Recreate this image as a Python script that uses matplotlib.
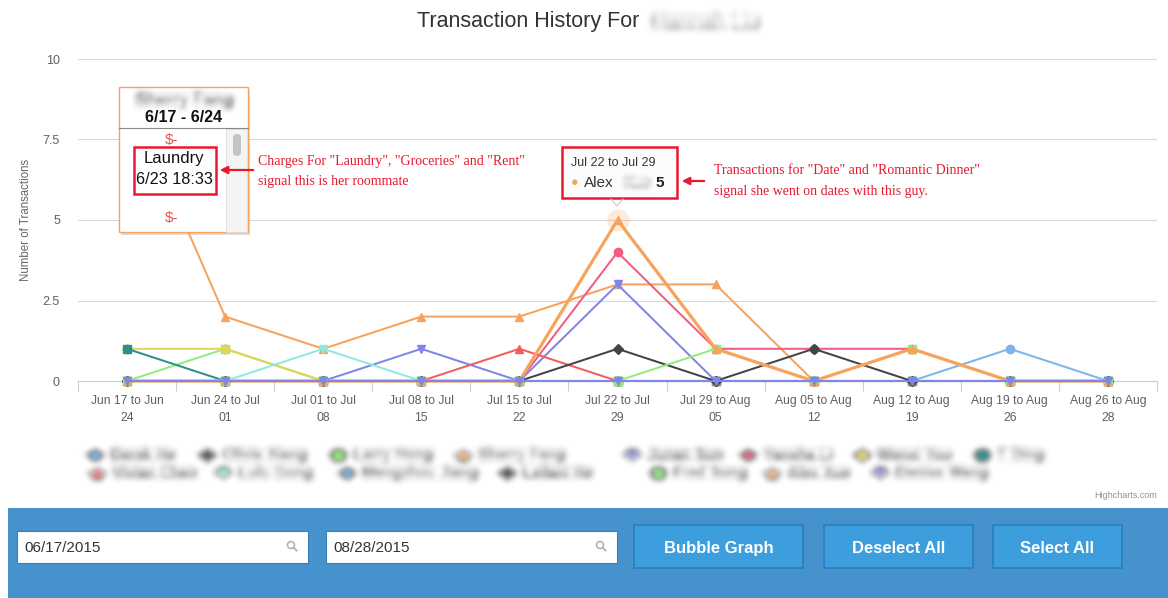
import numpy as np
import matplotlib
matplotlib.use('Agg')
import matplotlib.pyplot as plt
from matplotlib.patches import Rectangle, FancyBboxPatch, Circle
from matplotlib.lines import Line2D

plt.rcParams['font.family'] = ['Liberation Sans', 'DejaVu Sans']

# week categories on the x axis
weeks = ['Jun 17 to Jun\n24', 'Jun 24 to Jul\n01', 'Jul 01 to Jul\n08', 'Jul 08 to Jul\n15',
         'Jul 15 to Jul\n22', 'Jul 22 to Jul\n29', 'Jul 29 to Aug\n05', 'Aug 05 to Aug\n12',
         'Aug 12 to Aug\n19', 'Aug 19 to Aug\n26', 'Aug 26 to Aug\n28']

# number of transactions per person per week
derek_he       = [0, 0, 0, 0, 0, 0, 0, 0, 0, 1, 0]
olivia_xiang   = [0, 0, 0, 0, 0, 0, 0, 0, 0, 0, 0]
larry_hong     = [0, 1, 0, 0, 0, 0, 0, 0, 0, 0, 0]
sherry_fang    = [9, 2, 1, 2, 2, 3, 3, 0, 0, 0, 0]
junan_sun      = [0, 0, 0, 1, 0, 3, 0, 0, 0, 0, 0]
yansha_li      = [0, 0, 0, 0, 0, 4, 1, 1, 1, 0, 0]
wenxi_you      = [1, 1, 0, 0, 0, 0, 0, 0, 0, 0, 0]
t_ding         = [1, 0, 0, 0, 0, 0, 0, 0, 0, 0, 0]
vivian_chen    = [0, 0, 0, 0, 1, 0, 0, 0, 0, 0, 0]
lulu_gong      = [0, 0, 1, 0, 0, 0, 0, 0, 0, 0, 0]
mengzhou_jiang = [0, 0, 0, 0, 0, 0, 0, 0, 0, 0, 0]
leilani_he     = [0, 0, 0, 0, 0, 1, 0, 1, 0, 0, 0]
fred_song      = [0, 0, 0, 0, 0, 0, 1, 0, 1, 0, 0]
alex_xue       = [0, 0, 0, 0, 0, 5, 1, 0, 1, 0, 0]
denise_wang    = [0, 0, 0, 0, 0, 0, 0, 0, 0, 0, 0]

names = ['Derek He', 'Olivia Xiang', 'Larry Hong', 'Sherry Fang', 'Junan Sun', 'Yansha Li',
         'Wenxi You', 'T Ding', 'Vivian Chen', 'Lulu Gong', 'Mengzhou Jiang', 'Leilani He',
         'Fred Song', 'Alex Xue', 'Denise Wang']
series = [derek_he, olivia_xiang, larry_hong, sherry_fang, junan_sun, yansha_li, wenxi_you,
          t_ding, vivian_chen, lulu_gong, mengzhou_jiang, leilani_he, fred_song, alex_xue,
          denise_wang]

# highcharts default look
palette = ['#7cb5ec', '#434348', '#90ed7d', '#f7a35c', '#8085e9',
           '#f15c80', '#e4d354', '#2b908f', '#f45b5b', '#91e8e1']
symbols = ['o', 'D', 's', '^', 'v']
hovered = 'Alex Xue'
RED = '#e8182e'


def blur(sigma):
    # gaussian blur for the names that were blurred out in the screenshot
    r = int(3 * sigma) + 1
    k = np.exp(-0.5 * (np.arange(-r, r + 1) / sigma) ** 2)
    k /= k.sum()

    def f(im, dpi):
        p = np.pad(im, ((r, r), (r, r), (0, 0)))
        h, w = p.shape[:2]
        pp = np.pad(p, ((r, r), (0, 0), (0, 0)))
        tmp = sum(k[i] * pp[i:i + h] for i in range(2 * r + 1))
        pp = np.pad(tmp, ((0, 0), (r, r), (0, 0)))
        out = sum(k[i] * pp[:, i:i + w] for i in range(2 * r + 1))
        return out, -r, -r
    return f


W, H = 1168, 598
fig = plt.figure(figsize=(W / 100, H / 100), dpi=100)
fig.patch.set_facecolor('white')

# plot area in pixels: x 78..1157, y 59..381
ax = fig.add_axes([78 / W, (H - 381) / H, (1157 - 78) / W, (381 - 59) / H])
ax.set_zorder(1)
x = np.arange(len(weeks))
for i, (name, vals) in enumerate(zip(names, series)):
    c = palette[i % len(palette)]
    m = symbols[i % len(symbols)]
    lw = 2.3 if name == hovered else 1.45
    ms = 4.6 if m == 'D' else 6.0
    ax.plot(x, vals, color=c, lw=lw, marker=m, ms=ms, mec=c, clip_on=False, zorder=3 + i * 0.01)
# hover halo on the highlighted point
k = names.index(hovered)
peak = int(np.argmax(alex_xue))
ax.plot(peak, alex_xue[peak], 'o', ms=16, color=palette[k % 10], alpha=0.22, mec='none',
        zorder=2.9, clip_on=False)

ax.set_xlim(-0.5, len(weeks) - 0.5)
ax.set_ylim(0, 10)
ax.set_yticks([0, 2.5, 5, 7.5, 10])
ax.set_yticklabels(['0', '2.5', '5', '7.5', '10'])
ax.set_xticks(x)
ax.set_xticklabels(weeks, fontsize=8.7, color='#606060', linespacing=1.55)
ax.set_xticks(np.arange(-0.5, len(weeks), 1), minor=True)
ax.tick_params(axis='x', which='major', length=0, pad=10)
ax.tick_params(axis='x', which='minor', length=7, color='#c0d0e0', width=0.8)
ax.tick_params(axis='y', length=0, pad=13, labelsize=9, labelcolor='#606060')
ax.grid(axis='y', color='#d8d8d8', lw=0.8)
ax.set_axisbelow(True)
for s in ['top', 'right', 'left']:
    ax.spines[s].set_visible(False)
ax.spines['bottom'].set_color('#c0d0e0')
ax.set_ylabel('Number of Transactions', fontsize=8.3, color='#666666', labelpad=8)

# overlay in pixel coordinates for the page furniture
ov = fig.add_axes([0, 0, 1, 1])
ov.set_zorder(2)
ov.set_xlim(0, W)
ov.set_ylim(H, 0)
ov.axis('off')

# title
ov.text(639, 22, 'Transaction History For', ha='right', va='center', fontsize=15.5, color='#333333')
t = ov.text(652, 22, 'Hannah Liu', ha='left', va='center', fontsize=15, color='#8a8a8a')
t.set_agg_filter(blur(3.5))

# left tooltip (Sherry Fang)
ov.add_patch(Rectangle((121, 90), 129, 145, fc='#bbbbbb', ec='none', alpha=0.5))
ov.add_patch(Rectangle((119, 87), 129, 145, fc='white', ec='#f7a35c', lw=1))
t = ov.text(184, 100, 'Sherry Fang', ha='center', va='center', fontsize=12, fontweight='bold',
            color='#444444')
t.set_agg_filter(blur(3))
ov.text(184, 118, '6/17 - 6/24', ha='center', va='center', fontsize=11.5, fontweight='bold',
        color='#111111')
ov.plot([119, 248], [128, 128], color='#888888', lw=0.8)
ov.add_patch(Rectangle((226, 129), 21, 103, fc='#f4f4f4', ec='#dddddd', lw=0.6))
ov.add_patch(FancyBboxPatch((233, 134), 8, 22, boxstyle='round,pad=0,rounding_size=4',
                            fc='#c4c4c4', ec='none'))
ov.text(172, 140, '$-', ha='center', va='center', fontsize=11, color='#e05555')
ov.add_patch(Rectangle((134, 147), 82, 47, fc='none', ec=RED, lw=1.8))
ov.text(174, 159, 'Laundry', ha='center', va='center', fontsize=12, color='#111111')
ov.text(174, 180, '6/23 18:33', ha='center', va='center', fontsize=11.7, color='#111111')
ov.text(172, 218, '$-', ha='center', va='center', fontsize=11, color='#e05555')

ov.annotate('', xy=(217, 170), xytext=(256, 170),
            arrowprops=dict(arrowstyle='-|>', color=RED, lw=1.6, mutation_scale=11))
ov.text(258, 161, 'Charges For "Laundry", "Groceries" and "Rent"', ha='left', va='center',
        fontsize=10, color=RED, family='Liberation Serif')
ov.text(258, 181, 'signal this is her roommate', ha='left', va='center',
        fontsize=10, color=RED, family='Liberation Serif')

# middle tooltip (Alex Xue)
ov.plot([611, 617, 623], [199, 206, 199], color='#cccccc', lw=0.8)
ov.add_patch(Rectangle((562, 147), 115, 51, fc='#fcfcfc', ec=RED, lw=1.8))
ov.text(571, 163, weeks[peak].replace('\n', ' '), ha='left', va='center', fontsize=9,
        color='#333333')
ov.text(571, 183, '\u25cf', ha='left', va='center', fontsize=9, color=palette[k % 10])
ov.text(584, 183, hovered.split()[0], ha='left', va='center', fontsize=11, color='#333333')
t = ov.text(624, 183, hovered.split()[1], ha='left', va='center', fontsize=11, color='#aaaaaa')
t.set_agg_filter(blur(2.5))
ov.text(655, 183, str(alex_xue[peak]), ha='left', va='center', fontsize=11,
        fontweight='bold', color='#222222')

ov.annotate('', xy=(679, 181), xytext=(707, 181),
            arrowprops=dict(arrowstyle='-|>', color=RED, lw=1.6, mutation_scale=11))
ov.text(714, 171, 'Transactions for "Date" and "Romantic Dinner"', ha='left', va='center',
        fontsize=10, color=RED, family='Liberation Serif')
ov.text(714, 191, 'signal she went on dates with this guy.', ha='left', va='center',
        fontsize=10, color=RED, family='Liberation Serif')

# legend (blurred in the screenshot)
legend_x = [95, 207, 338, 463, 632, 748, 862, 982, 97, 223, 347, 507, 658, 772, 880]
for i, name in enumerate(names):
    lx = legend_x[i]
    ly = 455 if i < 8 else 473
    c = palette[i % len(palette)]
    m = symbols[i % len(symbols)]
    ln = Line2D([lx - 8, lx + 8], [ly, ly], color=c, lw=1.5)
    ln.set_agg_filter(blur(3))
    ov.add_line(ln)
    mk = Line2D([lx], [ly], marker=m, ms=6.5, color=c, lw=0)
    mk.set_agg_filter(blur(3))
    ov.add_line(mk)
    t = ov.text(lx + 16, ly, name, ha='left', va='center', fontsize=10.5, fontweight='bold',
                color='#444444')
    t.set_agg_filter(blur(3.2))

ov.text(1157, 496, 'Highcharts.com', ha='right', va='center', fontsize=6.5, color='#909090')

# bottom control bar
ov.add_patch(Rectangle((8, 508), W - 8, H - 508, fc='#4592cc', ec='none'))
for bx, label in [(17, '06/17/2015'), (326, '08/28/2015')]:
    ov.add_patch(Rectangle((bx, 531), 291, 32, fc='white', ec='#3a7fb5', lw=0.8))
    ov.text(bx + 7, 547, label, ha='left', va='center_baseline', fontsize=11, color='#333333')
    ov.add_patch(Circle((bx + 274, 545), 3.5, fc='none', ec='#b0b0b0', lw=1.1))
    ov.plot([bx + 276.5, bx + 279.5], [547.5, 550.5], color='#b0b0b0', lw=1.3)
for bx, bw, label in [(634, 169, 'Bubble Graph'), (824, 149, 'Deselect All'),
                      (993, 129, 'Select All')]:
    ov.add_patch(Rectangle((bx, 525), bw, 43, fc='#3c9edc', ec='#2b7dbd', lw=1.2))
    ov.text(bx + bw / 2, 547, label, ha='center', va='center_baseline', fontsize=12,
            fontweight='bold', color='white')

fig.savefig('out.png', dpi=100, facecolor='white')
